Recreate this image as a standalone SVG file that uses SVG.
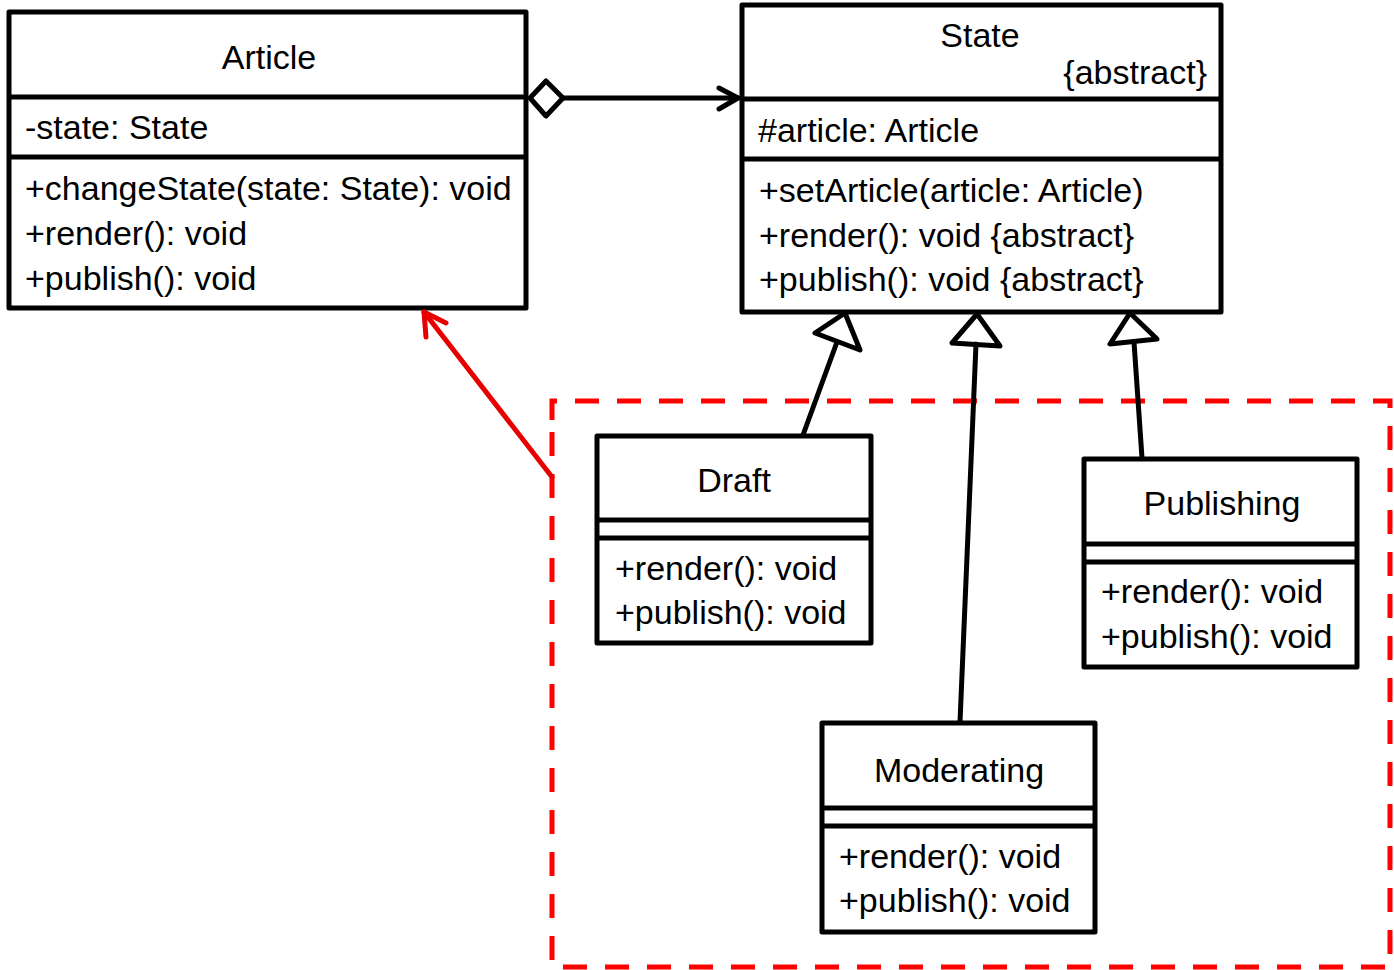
<svg xmlns="http://www.w3.org/2000/svg" width="1394" height="970" viewBox="0 0 1394 970">
<style>
.box{fill:#fff;stroke:#000;stroke-width:5;stroke-linejoin:round}
.div{stroke:#000;stroke-width:5}
.t{font-family:"Liberation Sans",Arial,sans-serif;font-size:34px;fill:#000}
.c{text-anchor:middle}
.r{text-anchor:end}
.ln{fill:none;stroke:#000;stroke-width:5;stroke-linecap:round;stroke-linejoin:round}
.red{fill:none;stroke:#e80000;stroke-width:5;stroke-linecap:round;stroke-linejoin:round}
</style>
<g id="group">
<path d="M552,420 L552,401 L1390,401 L1390,967 L552,967 Z" fill="none" stroke="#f00" stroke-width="5" stroke-dasharray="24 18"/>
</g>
<g id="Article">
<rect class="box" x="9" y="12" width="517" height="296"/>
<line class="div" x1="9" y1="97" x2="526" y2="97"/>
<line class="div" x1="9" y1="157" x2="526" y2="157"/>
<text class="t c" x="269" y="69">Article</text>
<text class="t" x="25" y="139">-state: State</text>
<text class="t" x="25" y="200">+changeState(state: State): void</text>
<text class="t" x="25" y="245">+render(): void</text>
<text class="t" x="25" y="290">+publish(): void</text>
</g>
<g id="State">
<rect class="box" x="742" y="5" width="479" height="307"/>
<line class="div" x1="742" y1="99" x2="1221" y2="99"/>
<line class="div" x1="742" y1="159" x2="1221" y2="159"/>
<text class="t c" x="980" y="47">State</text>
<text class="t r" x="1207" y="84">{abstract}</text>
<text class="t" x="758" y="142">#article: Article</text>
<text class="t" x="759" y="202">+setArticle(article: Article)</text>
<text class="t" x="759" y="247">+render(): void {abstract}</text>
<text class="t" x="759" y="291">+publish(): void {abstract}</text>
</g>
<g id="Draft">
<rect class="box" x="597" y="436" width="274" height="207"/>
<line class="div" x1="597" y1="520" x2="871" y2="520"/>
<line class="div" x1="597" y1="538" x2="871" y2="538"/>
<text class="t c" x="734" y="492">Draft</text>
<text class="t" x="615" y="580">+render(): void</text>
<text class="t" x="615" y="624">+publish(): void</text>
</g>
<g id="Publishing">
<rect class="box" x="1084" y="459" width="273" height="208"/>
<line class="div" x1="1084" y1="544" x2="1357" y2="544"/>
<line class="div" x1="1084" y1="562" x2="1357" y2="562"/>
<text class="t c" x="1222" y="515">Publishing</text>
<text class="t" x="1101" y="603">+render(): void</text>
<text class="t" x="1101" y="648">+publish(): void</text>
</g>
<g id="Moderating">
<rect class="box" x="822" y="723" width="273" height="209"/>
<line class="div" x1="822" y1="808" x2="1095" y2="808"/>
<line class="div" x1="822" y1="826" x2="1095" y2="826"/>
<text class="t c" x="959" y="782">Moderating</text>
<text class="t" x="839" y="868">+render(): void</text>
<text class="t" x="839" y="912">+publish(): void</text>
</g>
<g id="connectors">
<path class="ln" d="M530,98 L546,81 L563,98 L546,116 Z" fill="#fff"/>
<path class="ln" d="M563,98 L738,98"/>
<path class="ln" d="M719,88 L738,98 L719,109"/>
<path class="ln" d="M803,435 L837,342"/>
<path class="ln" d="M845,313 L815,333 L860,350 Z"/>
<path class="ln" d="M960,722 L976,344"/>
<path class="ln" d="M977,314 L952,343 L1000,346 Z"/>
<path class="ln" d="M1142,458 L1134,342"/>
<path class="ln" d="M1130,313 L1110,344 L1157,339 Z"/>
<path class="red" d="M552,477 L424,312"/>
<path class="red" d="M426,337 L424,312 L446,323"/>
</g>
</svg>
